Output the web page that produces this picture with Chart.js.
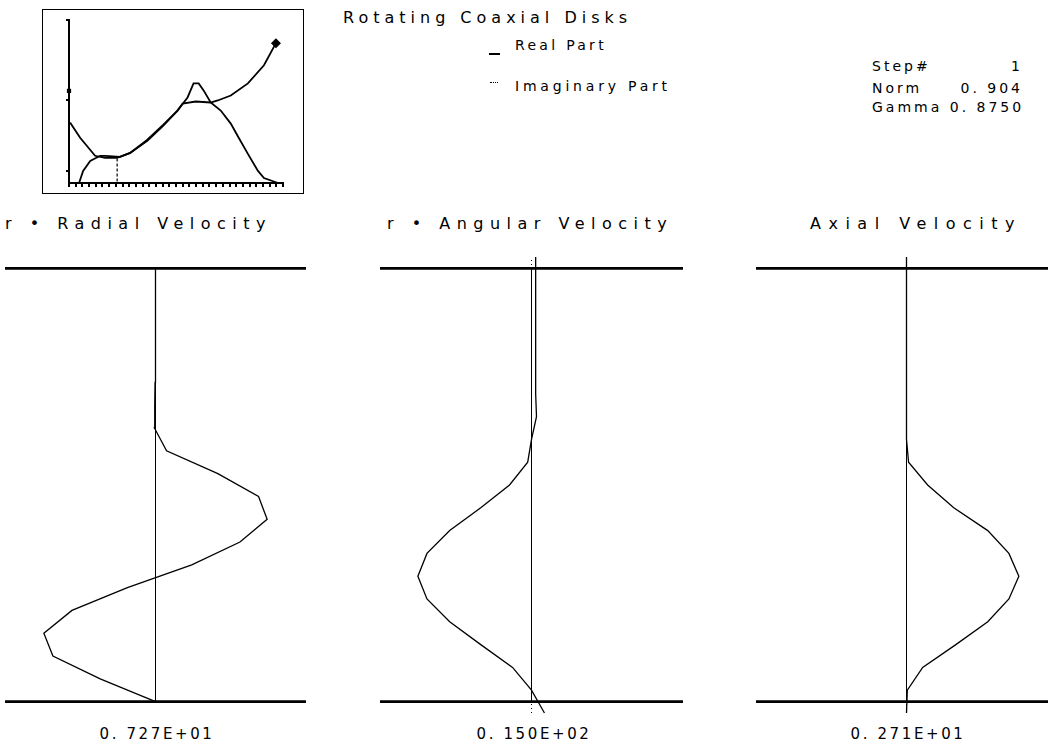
<!DOCTYPE html>
<html>
<head>
<meta charset="utf-8">
<script src="https://cdn.jsdelivr.net/npm/chart.js@4/dist/chart.umd.min.js"></script>
<style>
  body { margin: 0; background: #fff; }
  #page { position: relative; width: 1048px; height: 745px; overflow: hidden; background: #fff;
          font-family: "DejaVu Sans", sans-serif; color: #000; }
  .txt { position: absolute; white-space: pre; line-height: 16px; }
  .info { font-size: 14px; letter-spacing: 3px; }
  .head { font-size: 16px; letter-spacing: 6.5px; }
  .scale { font-size: 15px; letter-spacing: 2.6px; transform: translateX(-50%); }
  .right { transform: translateX(-100%); }
  .wrap { position: absolute; }
  #historyBox { left: 42px; top: 9px; width: 260px; height: 183px; border: 1px solid #000; }
</style>
</head>
<body>
<div id="page">
  <div id="historyBox" class="wrap"><canvas id="history"></canvas></div>

  <div class="txt" style="left:343px;top:10px;font-size:16px;letter-spacing:5px;">Rotating Coaxial Disks</div>

  <div class="wrap" style="left:489px;top:53px;width:11px;border-top:2px solid #000;"></div>
  <div class="txt info" style="left:515px;top:37px;letter-spacing:3.3px;">Real Part</div>
  <div class="wrap" style="left:490px;top:82px;width:8px;border-top:1px dotted #000;"></div>
  <div class="txt info" style="left:515px;top:78px;letter-spacing:3.8px;">Imaginary Part</div>

  <div class="txt info" style="left:872px;top:58px;">Step#</div>
  <div class="txt info right" style="left:1023px;top:58px;">1</div>
  <div class="txt info" style="left:872px;top:80px;">Norm</div>
  <div class="txt info right" style="left:1023px;top:80px;">0. 904</div>
  <div class="txt info" style="left:872px;top:99px;">Gamma 0. 8750</div>

  <div class="txt head" style="left:5px;top:216px;">r • Radial Velocity</div>
  <div class="txt head" style="left:387px;top:216px;">r • Angular Velocity</div>
  <div class="txt head" style="left:810px;top:216px;letter-spacing:7.5px;">Axial Velocity</div>

  <div class="wrap" style="left:5px;top:247px;width:301px;height:476px;"><canvas id="radial"></canvas></div>
  <div class="wrap" style="left:380px;top:247px;width:303px;height:476px;"><canvas id="angular"></canvas></div>
  <div class="wrap" style="left:756px;top:247px;width:301px;height:476px;"><canvas id="axial"></canvas></div>

  <div id="lab0" class="txt scale" style="left:157px;top:726px;"></div>
  <div id="lab1" class="txt scale" style="left:534px;top:726px;"></div>
  <div id="lab2" class="txt scale" style="left:908px;top:726px;"></div>
</div>

<script>
// staggered grid across the gap: radial on half nodes, the rest on full nodes
const zHalf = [0.5, 1.5, 2.5, 3.5, 4.5, 5.5, 6.5, 7.5, 8.5, 9.5, 10.5, 11.5, 12.5, 13.5, 14.5, 15.5, 16.5, 17.5, 18.5, 19.5];
const zFull = [0, 1, 2, 3, 4, 5, 6, 7, 8, 9, 10, 11, 12, 13, 14, 15, 16, 17, 18, 19, 20];
const diskLevels = [0.5, 19.5];

const radialReal = [0, -3.6, -6.68, -7.27, -5.44, -1.83, 2.36, 5.5, 7.27, 6.71, 4.06, 0.72, -0.07, -0.05, -0.03, 0, 0, 0, 0, 0];
const radialImag = [0, 0, 0, 0, 0, 0, 0, 0, 0, 0, 0, 0, 0, 0, 0, 0, 0, 0, 0, 0];
const angularReal = [1.71, 0, -2.5, -6.7, -10.8, -13.8, -15.0, -13.8, -10.8, -6.7, -2.9, -0.5, 0, 0.66, 0.55, 0.55, 0.55, 0.55, 0.55, 0.55, 0.55];
const angularImag = [0, 0, 0, 0, 0, 0, 0, 0, 0, 0, 0, 0, 0, 0, 0, 0, 0, 0, 0, 0, 0];
const axialReal = [0, 0.02, 0.39, 1.19, 1.96, 2.47, 2.71, 2.47, 1.96, 1.14, 0.51, 0.05, 0, 0, 0, 0, 0, 0, 0, 0, 0];
const axialImag = [0, 0, 0, 0, 0, 0, 0, 0, 0, 0, 0, 0, 0, 0, 0, 0, 0, 0, 0, 0, 0];

const scaleLabels = ["0. 727E+01", "0. 150E+02", "0. 271E+01"];
const xLimits = [9.8, 20, 3.63];

// continuation history (gamma vs norm), two branches
const branchAx = [0.047, 0.066, 0.099, 0.146, 0.169, 0.239, 0.286, 0.366, 0.441, 0.507, 0.531, 0.592, 0.662, 0.695, 0.756, 0.836, 0.911, 0.967];
const branchAy = [0, 0.119, 0.217, 0.267, 0.267, 0.257, 0.296, 0.425, 0.573, 0.711, 0.78, 0.8, 0.79, 0.81, 0.859, 0.978, 1.156, 1.373];
const branchBx = [0.005, 0.052, 0.122, 0.169, 0.225, 0.286, 0.366, 0.441, 0.507, 0.554, 0.582, 0.606, 0.629, 0.662, 0.709, 0.756, 0.793, 0.836, 0.883, 0.911, 0.977];
const branchBy = [0.593, 0.444, 0.267, 0.247, 0.247, 0.296, 0.415, 0.563, 0.711, 0.84, 0.978, 0.978, 0.909, 0.79, 0.711, 0.583, 0.444, 0.286, 0.119, 0.049, 0];
const dropX = [0.225, 0.225];
const dropY = [0.24, 0];
const currentNorm = 0.904;
const historyYTicks = [0.12, 0.81, 1.6];

function zip(xs, ys) {
    return xs.map((x, i) => ({ x: x, y: ys[i] }));
}

function line(points, width, dash) {
    return {
        data: points,
        showLine: true,
        borderColor: "#000",
        backgroundColor: "#000",
        borderWidth: width,
        borderDash: dash || [],
        pointRadius: 0,
        tension: 0,
        clip: false
    };
}

function profileChart(id, z, real, imag, limit) {
    const datasets = [
        line(zip(imag, z), 1, [1, 3]),
        line([{ x: -limit, y: diskLevels[0] }, { x: limit, y: diskLevels[0] }], 2.6),
        line([{ x: -limit, y: diskLevels[1] }, { x: limit, y: diskLevels[1] }], 2.6),
        line([{ x: 0, y: diskLevels[0] }, { x: 0, y: diskLevels[1] }], 1),
        line(zip(real, z), 1.3)
    ];
    return new Chart(document.getElementById(id), {
        type: "scatter",
        data: { datasets: datasets },
        options: {
            animation: false,
            responsive: true,
            maintainAspectRatio: false,
            layout: { padding: { top: 10, bottom: 10, left: 0, right: 0 } },
            plugins: { legend: { display: false }, tooltip: { enabled: false } },
            scales: {
                x: { type: "linear", min: -limit, max: limit, display: false },
                y: { type: "linear", min: 0, max: 20, display: false }
            }
        }
    });
}

profileChart("radial", zHalf, radialReal, radialImag, xLimits[0]);
profileChart("angular", zFull, angularReal, angularImag, xLimits[1]);
profileChart("axial", zFull, axialReal, axialImag, xLimits[2]);

scaleLabels.forEach((t, i) => { document.getElementById("lab" + i).textContent = t; });

// ===== small history plot =====
const branchB = line(zip(branchBx, branchBy), 1.8);
const branchA = line(zip(branchAx, branchAy), 1.8);
const endMark = line([{ x: branchAx[branchAx.length - 1], y: branchAy[branchAy.length - 1] }], 0);
endMark.showLine = false;
endMark.pointStyle = "rectRot";
endMark.pointRadius = 5;
const normMark = line([{ x: 0, y: currentNorm }], 0);
normMark.showLine = false;
normMark.pointStyle = "rect";
normMark.pointRadius = 3;

new Chart(document.getElementById("history"), {
    type: "scatter",
    data: { datasets: [branchB, branchA, line(zip(dropX, dropY), 1.2, [3, 2]), endMark, normMark] },
    options: {
        animation: false,
        responsive: true,
        maintainAspectRatio: false,
        layout: { padding: { top: 10, right: 20, left: 0, bottom: 0 } },
        plugins: { legend: { display: false }, tooltip: { enabled: false } },
        scales: {
            x: {
                type: "linear", min: 0, max: 1,
                ticks: { display: false, stepSize: 1 / 32 },
                grid: { drawOnChartArea: false, drawTicks: true, tickLength: 4, color: "#000", lineWidth: 2 },
                border: { display: true, color: "#000", width: 2 },
                afterFit: (s) => { s.height = 10; }
            },
            y: {
                type: "linear", min: 0, max: 1.6,
                ticks: { display: false },
                afterBuildTicks: (s) => { s.ticks = historyYTicks.map(v => ({ value: v })); },
                grid: { drawOnChartArea: false, drawTicks: true, tickLength: 3, color: "#000", lineWidth: 2 },
                border: { display: true, color: "#000", width: 2 },
                afterFit: (s) => { s.width = 26; }
            }
        }
    }
});
</script>
</body>
</html>
